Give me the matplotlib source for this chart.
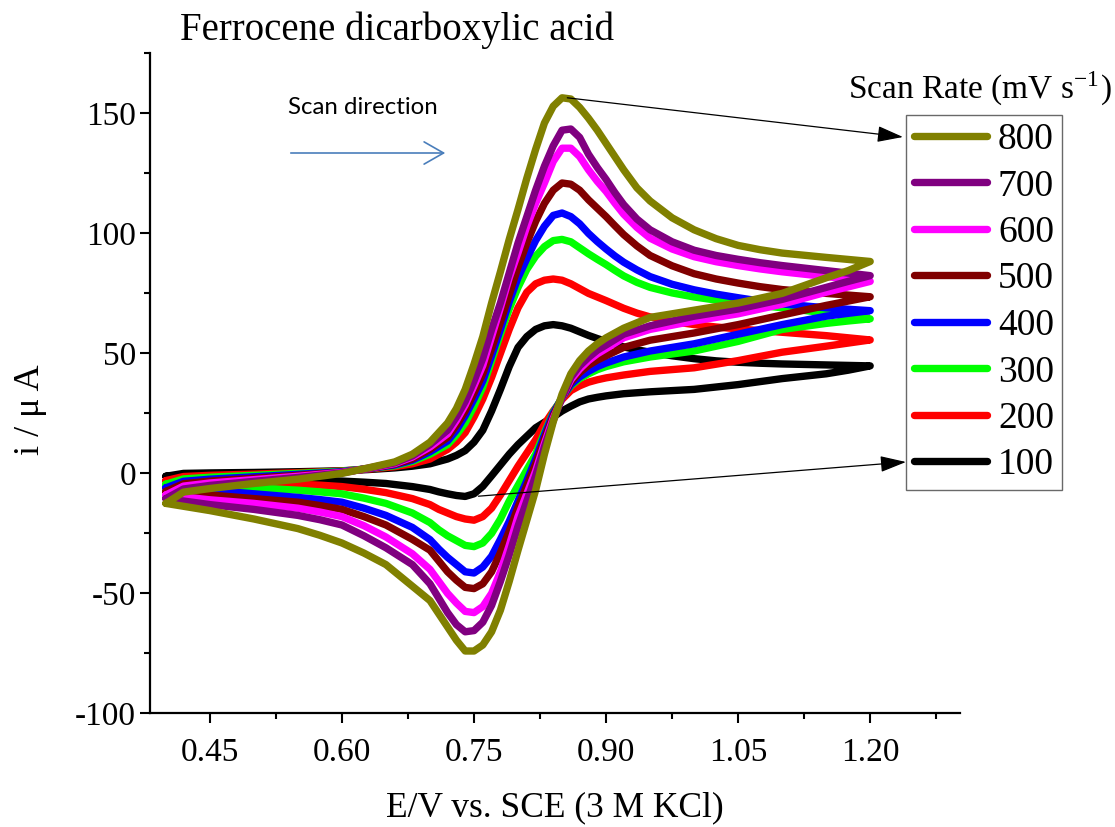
import matplotlib
matplotlib.use("Agg")
import matplotlib.pyplot as plt
from matplotlib.ticker import MultipleLocator, FixedLocator

plt.rcParams['font.family'] = ['Liberation Serif', 'DejaVu Serif']
plt.rcParams['mathtext.fontset'] = 'stix'
plt.rcParams['axes.unicode_minus'] = False

# potential grids (V vs SCE)
E_fwd = [0.40, 0.42, 0.45, 0.50, 0.55, 0.60, 0.63, 0.66, 0.68, 0.70,
         0.72, 0.73, 0.74, 0.75, 0.76, 0.77, 0.78, 0.79, 0.80, 0.81,
         0.82, 0.83, 0.84, 0.85, 0.86, 0.87, 0.88, 0.89, 0.90, 0.91,
         0.92, 0.935, 0.95, 0.975, 1.00, 1.025, 1.05, 1.075, 1.10, 1.15, 1.20]
E_rev = [1.20, 1.175, 1.15, 1.10, 1.05, 1.00, 0.95, 0.92, 0.90, 0.89,
         0.88, 0.87, 0.86, 0.85, 0.84, 0.83, 0.82, 0.81, 0.80, 0.79,
         0.78, 0.77, 0.76, 0.75, 0.74, 0.73, 0.72, 0.71, 0.70, 0.68,
         0.65, 0.625, 0.60, 0.575, 0.55, 0.50, 0.45, 0.40]

# currents (uA), forward scan
fwd_100 = [-1.2, 0.0, 0.2, 0.4, 0.7, 1.1, 1.6, 2.3, 3.0, 4.0,
           6.0, 7.5, 9.5, 13, 18, 26, 35, 44.5, 52.5, 57,
           60, 61.5, 62, 61.5, 60.5, 59, 57.5, 56.2, 55, 53.8,
           52.7, 51.5, 50.5, 49, 47.8, 46.9, 46.3, 45.9, 45.6, 45.2, 44.8]
fwd_200 = [-3, -1.3, -0.8, -0.3, 0.3, 1.0, 1.8, 2.8, 4.0, 6.0,
           10, 13, 17, 23.5, 31, 40, 50, 60, 69, 75.5,
           79, 80.5, 81, 80.5, 79, 77, 75, 73.5, 72, 70.4,
           68.8, 66.8, 65.2, 63.3, 62, 61, 60.2, 59.5, 58.8, 57.4, 55.6]
fwd_300 = [-4.5, -2.3, -1.6, -0.8, 0.0, 0.9, 2.0, 3.2, 5.0, 8.0,
           12, 16, 21, 28, 36, 47, 58, 68.5, 77.5, 85,
           90.5, 94.5, 97, 97.5, 96.5, 94, 91.5, 89.2, 87, 84.6,
           82.3, 79.6, 77.5, 75.2, 73.5, 72.2, 71, 70, 69, 66.8, 64.4]
fwd_400 = [-6, -3.3, -2.4, -1.4, -0.4, 0.7, 2.0, 3.5, 5.5, 9.0,
           13.5, 18, 24, 31, 38.5, 49, 60, 71.5, 81.5, 89.5,
           97, 103, 107.5, 108.5, 107, 104, 100, 96.6, 93.5, 90.6,
           88, 84.8, 82, 78.8, 76.5, 74.7, 73.2, 71.8, 70.6, 69, 67.8]
fwd_500 = [-7.5, -4.3, -3.2, -2.0, -0.8, 0.5, 2.0, 3.8, 6.0, 10,
           15, 20, 26, 33.5, 41.5, 52, 63, 74.5, 86, 96,
           105, 112.5, 118, 121, 120.5, 118, 114, 110.5, 107, 103.2,
           99.5, 94.8, 90.8, 86.5, 83.2, 81, 79.3, 77.8, 76.6, 75, 73.6]
fwd_600 = [-9, -5.3, -4.0, -2.6, -1.2, 0.4, 2.1, 4.1, 6.8, 11,
           16.5, 22, 28.5, 36.5, 45, 57, 69, 81.5, 92, 103,
           112.5, 121, 130, 135.5, 135.5, 132, 126.5, 121.7, 117.5, 112.6,
           108, 102.5, 98, 93.5, 90.3, 88.2, 86.6, 85.2, 84, 82, 80]
fwd_700 = [-10.5, -6.5, -5.0, -3.3, -1.7, 0.2, 2.2, 4.4, 7.3, 12,
           18, 23.5, 30, 38.5, 48, 60, 71, 83.5, 96, 107,
           118, 128, 136.5, 143, 143.5, 140, 133, 127.5, 122.5, 117,
           112, 106, 101.5, 96.5, 93, 90.8, 89.2, 87.8, 86.6, 84.5, 82.4]
fwd_800 = [-12.5, -7.8, -6.3, -4.2, -2.4, 0.0, 2.3, 4.8, 8.0, 13,
           21, 27, 35, 45.5, 57, 71, 84, 97.5, 110, 123,
           135, 146, 153, 156.5, 156, 152.5, 148, 143, 137.5, 132,
           126.5, 119, 113.5, 106.5, 101.5, 97.8, 95, 93.2, 91.8, 90, 88.3]

# currents (uA), reverse scan
rev_100 = [44.8, 43, 41.5, 39.5, 37, 35, 34, 33.2, 32.3, 31.7,
           31, 29.8, 28, 26, 23.5, 21.3, 19, 15.5, 12, 8,
           3.5, -1, -5.4, -8.5, -9.6, -9.2, -8.5, -7.7, -6.7, -5.5,
           -4.2, -3.65, -3.2, -2.85, -2.5, -2.0, -1.6, -1.2]
rev_200 = [55.6, 54.3, 53, 50.5, 47, 44, 42.5, 41, 39.8, 39,
           38, 36.5, 34.5, 30.8, 26, 20.5, 14, 8.5, 3, -3,
           -9, -14.5, -18, -19.5, -19, -18, -16.5, -15, -13, -10.5,
           -8, -6.6, -5.5, -4.9, -4.5, -4.0, -3.5, -3.0]
rev_300 = [64.4, 63.5, 62.5, 60, 55, 51, 48.5, 46.5, 44.5, 43.2,
           41.5, 39.5, 36.5, 31.5, 25.5, 17, 8, 1.5, -5, -11.5,
           -19, -25, -29, -30.5, -30, -28, -26, -23.5, -20.5, -16.5,
           -12.5, -10.3, -8.5, -7.7, -7, -6, -5, -4.5]
rev_400 = [67.8, 66.7, 65.5, 62, 58, 54, 51, 48.5, 46, 44.5,
           42.5, 40.2, 37, 31.5, 25, 16, 6, -3, -11.5, -20,
           -27.5, -34.5, -39, -41.5, -41, -38, -35, -31.5, -27.6, -22.5,
           -17.5, -14.5, -12, -10.9, -10, -8.5, -7, -6]
rev_500 = [73.6, 71.8, 70, 66, 62, 58.5, 55.5, 52.5, 49, 47.2,
           45, 42, 38, 31.5, 24, 14.5, 4, -5, -14, -24,
           -33, -41, -46, -48, -47.5, -44.5, -41, -36.5, -32, -27.5,
           -21.5, -18, -15, -13.4, -12, -10.5, -9, -7.5]
rev_600 = [80, 77.7, 75.5, 70.5, 66.5, 63.5, 60, 56.5, 52, 49.8,
           47, 43.5, 39, 31.5, 23, 12.5, 1, -8.5, -18, -30,
           -41, -50, -55.5, -58, -57.5, -54, -50, -45, -40, -33.5,
           -26.5, -21.8, -18, -16.1, -14.5, -12.5, -11, -9]
rev_700 = [82.4, 80, 77.5, 72.5, 68.5, 65.5, 61.5, 58, 53.5, 51.3,
           48.3, 44.8, 40, 31.5, 22, 11, -1, -11.5, -22, -34,
           -45, -55, -62, -65.5, -66, -63, -58, -52, -46, -38,
           -31, -26, -21.5, -19.3, -17.5, -15, -13, -10.5]
rev_800 = [88.3, 84.5, 81.5, 75, 71, 68, 65, 60.5, 56.5, 54,
           51, 47, 41.5, 33, 21.5, 8, -7, -19.5, -32, -45,
           -57, -66, -71.5, -74, -74, -69.5, -64, -58.5, -53, -47,
           -38, -33.2, -29, -25.8, -23, -19, -15.5, -12.5]

scan_rates = ["100", "200", "300", "400", "500", "600", "700", "800"]
colors = ["#000000", "#ff0000", "#00ff00", "#0000ff", "#800000", "#ff00ff", "#800080", "#808000"]
fwd_all = [fwd_100, fwd_200, fwd_300, fwd_400, fwd_500, fwd_600, fwd_700, fwd_800]
rev_all = [rev_100, rev_200, rev_300, rev_400, rev_500, rev_600, rev_700, rev_800]

fig = plt.figure(figsize=(11.15, 8.27), dpi=100)
ax = fig.add_axes([150/1115, 1-713.4/827, 810/1115, 660/827])

lines = []
for lab, c, f, r in zip(scan_rates, colors, fwd_all, rev_all):
    ln, = ax.plot(E_fwd + E_rev, f + r, color=c, lw=5.3, label=lab,
                  solid_joinstyle='round', solid_capstyle='round')
    lines.append(ln)

ax.set_xlim(0.382, 1.302)
ax.set_ylim(-100, 175)
ax.xaxis.set_major_locator(FixedLocator([0.45, 0.60, 0.75, 0.90, 1.05, 1.20]))
ax.xaxis.set_minor_locator(FixedLocator([0.525, 0.675, 0.825, 0.975, 1.125, 1.275]))
ax.set_xticklabels(["0.45", "0.60", "0.75", "0.90", "1.05", "1.20"])
ax.yaxis.set_major_locator(MultipleLocator(50))
ax.yaxis.set_minor_locator(MultipleLocator(25))
ax.spines['top'].set_visible(False)
ax.spines['right'].set_visible(False)
ax.spines['left'].set_linewidth(1.6)
ax.spines['bottom'].set_linewidth(1.6)
ax.tick_params(which='major', direction='out', length=7, width=1.5, labelsize=24)
ax.tick_params(which='minor', direction='out', length=4.5, width=1.5)
ax.tick_params(axis='x', which='major', pad=10)
ax.tick_params(axis='y', which='major', pad=3)

ax.set_xlabel("E/V vs. SCE (3 M KCl)", fontsize=25.5)
ax.xaxis.set_label_coords(0.5, -0.118)
ax.set_ylabel("i / μ A", fontsize=26)
ax.yaxis.set_label_coords(-0.127, 0.46)

fig.text(180/1115, 1-30/827, "Ferrocene dicarboxylic acid", fontsize=28, va='center', ha='left')
fig.text(848/1115, 1-88/827, "Scan Rate (mV s$^{\\mathregular{-1}}$)", fontsize=24, va='center', ha='left')

# scan direction hint
fig.text(363/1115, 1-107/827, "Scan direction", fontsize=17.3, family='Lato',
         ha='center', va='center')
ax.annotate("", xy=(448/1115, 1-153/827), xytext=(288/1115, 1-153/827),
            xycoords='figure fraction', textcoords='figure fraction',
            arrowprops=dict(arrowstyle='->,head_length=0.7,head_width=0.4', color='#4a7ebb', lw=1.2,
                            mutation_scale=20))

leg = fig.legend(lines[::-1], scan_rates[::-1], loc='upper left',
                 bbox_to_anchor=(906/1115, 1-115/827), bbox_transform=fig.transFigure,
                 frameon=True, fancybox=False, fontsize=27, handlelength=1.96,
                 handletextpad=0.29, borderpad=0.2, labelspacing=0.32, borderaxespad=0)
leg.get_frame().set_edgecolor('#444444')
leg.get_frame().set_linewidth(1.0)

# pointers from curves to legend entries
ax.annotate("", xy=(903/1115, 1-137/827), xycoords='figure fraction',
            xytext=(0.856, 156.5), textcoords='data', annotation_clip=False,
            arrowprops=dict(arrowstyle='-|>,head_length=0.8,head_width=0.25', color='k', lw=0.9,
                            mutation_scale=20, shrinkA=0, shrinkB=0))
ax.annotate("", xy=(906/1115, 1-462/827), xycoords='figure fraction',
            xytext=(0.755, -9.5), textcoords='data', annotation_clip=False,
            arrowprops=dict(arrowstyle='-|>,head_length=0.8,head_width=0.25', color='k', lw=0.9,
                            mutation_scale=20, shrinkA=0, shrinkB=0))

fig.savefig("out.png", dpi=100)
